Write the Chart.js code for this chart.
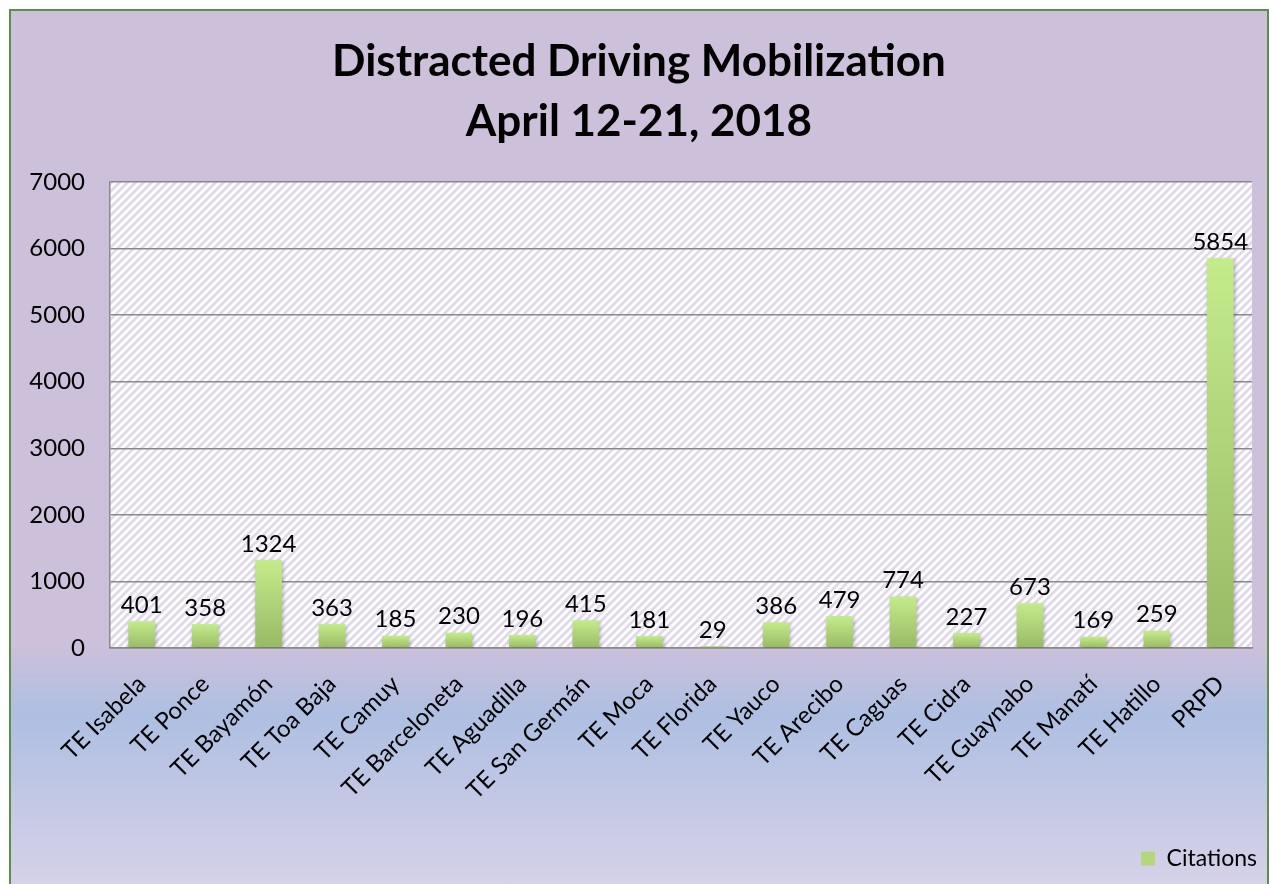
<!DOCTYPE html>
<html>
<head>
<meta charset="utf-8">
<script src="https://cdn.jsdelivr.net/npm/chart.js@4/dist/chart.umd.min.js"></script>
<style>
  html, body { margin: 0; padding: 0; background: #fff; }
  #wrap {
    position: absolute; left: 9px; top: 9px;
    width: 1256px; height: 880px;
    border: 2px solid #5a8f48;
    background: linear-gradient(to bottom, #cdc0da 0%, #cdc0da 72%, #aebfe2 80%, #c4c8e5 90%, #d7d3e9 100%);
  }
</style>
</head>
<body>
<div id="wrap"><canvas id="grafico"></canvas></div>
<script>
// dados
const categorias = ['TE Isabela', 'TE Ponce', 'TE Bayamón', 'TE Toa Baja', 'TE Camuy', 'TE Barceloneta',
  'TE Aguadilla', 'TE San Germán', 'TE Moca', 'TE Florida', 'TE Yauco', 'TE Arecibo', 'TE Caguas',
  'TE Cidra', 'TE Guaynabo', 'TE Manatí', 'TE Hatillo', 'PRPD'];
const citacoes = [401, 358, 1324, 363, 185, 230, 196, 415, 181, 29, 386, 479, 774, 227, 673, 169, 259, 5854];
const ticksY = [0, 1000, 2000, 3000, 4000, 5000, 6000, 7000];
const titulo = ['Distracted Driving Mobilization', 'April 12-21, 2018'];
const nomeSerie = 'Citations';

Chart.defaults.font.family = 'Lato';
Chart.defaults.color = '#000';

// fundo listrado da área do gráfico
function criarHachura(ctx) {
  const c = document.createElement('canvas');
  c.width = 8; c.height = 8;
  const p = c.getContext('2d');
  p.fillStyle = '#fff';
  p.fillRect(0, 0, 8, 8);
  p.strokeStyle = '#e0d9ec';
  p.lineWidth = 2.8;
  p.beginPath();
  p.moveTo(0, 8); p.lineTo(8, 0);
  p.moveTo(-2, 2); p.lineTo(2, -2);
  p.moveTo(6, 10); p.lineTo(10, 6);
  p.stroke();
  return ctx.createPattern(c, 'repeat');
}

function corBarra(context) {
  const chart = context.chart;
  const y = chart.scales.y;
  if (!y || context.dataIndex === undefined) return '#b5d67d';
  const topo = y.getPixelForValue(citacoes[context.dataIndex]);
  const base = y.getPixelForValue(0);
  const g = chart.ctx.createLinearGradient(0, topo, 0, base);
  g.addColorStop(0, '#c4ec8a');
  g.addColorStop(1, '#98b966');
  return g;
}

const fundoPlugin = {
  id: 'fundo',
  beforeDraw(chart) {
    const { ctx, chartArea: a } = chart;
    ctx.save();
    ctx.fillStyle = criarHachura(ctx);
    ctx.fillRect(a.left, a.top, a.right - a.left, a.bottom - a.top);
    ctx.restore();
  },
  beforeDatasetsDraw(chart) {
    const ctx = chart.ctx;
    ctx.save();
    ctx.shadowColor = 'rgba(0,0,0,0.3)';
    ctx.shadowBlur = 4;
    ctx.shadowOffsetX = 1;
    ctx.shadowOffsetY = 2;
  },
  afterDatasetsDraw(chart) {
    const ctx = chart.ctx;
    ctx.restore();
    const meta = chart.getDatasetMeta(0);
    ctx.save();
    ctx.font = '24px Lato';
    ctx.fillStyle = '#000';
    ctx.textAlign = 'center';
    ctx.textBaseline = 'bottom';
    meta.data.forEach((bar, i) => {
      ctx.fillText(String(citacoes[i]), bar.x, bar.y - 4);
    });
    ctx.restore();
  }
};

new Chart(document.getElementById('grafico'), {
  type: 'bar',
  data: {
    labels: categorias,
    datasets: [{
      label: nomeSerie,
      data: citacoes,
      backgroundColor: corBarra,
      borderWidth: 0,
      barPercentage: 0.42,
      categoryPercentage: 1
    }]
  },
  options: {
    responsive: true,
    maintainAspectRatio: false,
    animation: false,
    layout: { padding: { left: 0, right: 0, top: 0, bottom: 11 } },
    scales: {
      x: {
        grid: { display: false, drawTicks: false },
        border: { display: true, color: '#8a8a8a', width: 1.5 },
        ticks: { font: { size: 24 }, color: '#000', maxRotation: 45, minRotation: 45, padding: 22, autoSkip: false },
        afterFit: s => { s.height = 189; }
      },
      y: {
        min: 0,
        max: 7000,
        afterBuildTicks: s => { s.ticks = ticksY.map(v => ({ value: v })); },
        grid: { color: '#8a8a8a', lineWidth: 1.5, drawTicks: false },
        border: { display: true, color: '#8a8a8a', width: 1.5 },
        ticks: { font: { size: 24 }, color: '#000', padding: 25, callback: v => String(v) },
        afterFit: s => { s.width = 99; }
      },
      yDireita: {
        position: 'right',
        display: true,
        grid: { display: false, drawTicks: false },
        border: { display: false },
        ticks: { display: false },
        afterFit: s => { s.width = 15; }
      }
    },
    plugins: {
      title: {
        display: true,
        text: titulo,
        color: '#000',
        font: { size: 44, weight: 'bold', lineHeight: 60 / 44 },
        padding: { top: 21, bottom: 30 }
      },
      legend: {
        position: 'bottom',
        align: 'end',
        labels: {
          font: { size: 23 },
          color: '#000',
          boxWidth: 14,
          boxHeight: 14,
          padding: 10,
          generateLabels: () => [{ text: nomeSerie, fillStyle: '#b5d67d', strokeStyle: '#b5d67d', lineWidth: 0, datasetIndex: 0 }]
        }
      },
      tooltip: { enabled: false }
    }
  },
  plugins: [fundoPlugin]
});
</script>
</body>
</html>
